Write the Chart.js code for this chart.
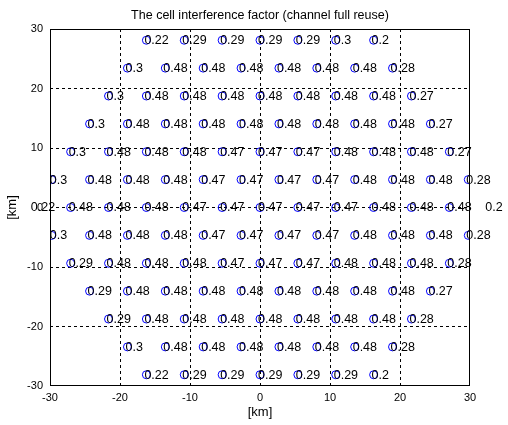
<!DOCTYPE html>
<html>
<head>
<meta charset="utf-8">
<script src="https://cdn.jsdelivr.net/npm/chart.js@4.4.0/dist/chart.umd.min.js"></script>
<style>
html,body{margin:0;padding:0;background:#fff;}
#wrap{width:508px;height:425px;}
</style>
</head>
<body>
<div id="wrap"><canvas id="c" width="508" height="425"></canvas></div>
<script>
// ---- data ----
const titleText = 'The cell interference factor (channel full reuse)';
const xAxisLabel = '[km]';
const yAxisLabel = '[km]';
const axisMin = -30;
const axisMax = 30;
const tickStep = 10;
const cellSpacing = 5.41;          // distance between neighbouring cell sites (km)
const rowIndex = [6, 5, 4, 3, 2, 1, 0, -1, -2, -3, -4, -5, -6];  // hex row number, top to bottom
const rowP6 = ['0.22','0.29','0.29','0.29','0.29','0.3','0.2'];
const rowP5 = ['0.3','0.48','0.48','0.48','0.48','0.48','0.48','0.28'];
const rowP4 = ['0.3','0.48','0.48','0.48','0.48','0.48','0.48','0.48','0.27'];
const rowP3 = ['0.3','0.48','0.48','0.48','0.48','0.48','0.48','0.48','0.48','0.27'];
const rowP2 = ['0.3','0.48','0.48','0.48','0.47','0.47','0.47','0.48','0.48','0.48','0.27'];
const rowP1 = ['0.3','0.48','0.48','0.48','0.47','0.47','0.47','0.47','0.48','0.48','0.48','0.28'];
const row0  = ['0.22','0.48','0.48','0.48','0.47','0.47','0.47','0.47','0.47','0.48','0.48','0.48','0.2'];
const rowM1 = ['0.3','0.48','0.48','0.48','0.47','0.47','0.47','0.47','0.48','0.48','0.48','0.28'];
const rowM2 = ['0.29','0.48','0.48','0.48','0.47','0.47','0.47','0.48','0.48','0.48','0.28'];
const rowM3 = ['0.29','0.48','0.48','0.48','0.48','0.48','0.48','0.48','0.48','0.27'];
const rowM4 = ['0.29','0.48','0.48','0.48','0.48','0.48','0.48','0.48','0.28'];
const rowM5 = ['0.3','0.48','0.48','0.48','0.48','0.48','0.48','0.28'];
const rowM6 = ['0.22','0.29','0.29','0.29','0.29','0.29','0.2'];
const rowLabels = [rowP6,rowP5,rowP4,rowP3,rowP2,rowP1,row0,rowM1,rowM2,rowM3,rowM4,rowM5,rowM6];

// ---- build hexagonal cell sites ----
const cells = [];
rowIndex.forEach((k, r) => {
  const labels = rowLabels[r];
  const n = labels.length;
  const y = k * cellSpacing * Math.sqrt(3) / 2;
  labels.forEach((lab, j) => {
    cells.push({x: (j - (n - 1) / 2) * cellSpacing, y: y, label: lab});
  });
});

const FONT = 'Liberation Sans, Arial, Helvetica, sans-serif';

const labelPlugin = {
  id: 'cellLabels',
  afterDatasetsDraw(chart) {
    const ctx = chart.ctx, xs = chart.scales.x, ys = chart.scales.y;
    ctx.save();
    ctx.fillStyle = '#000';
    ctx.font = '12.5px ' + FONT;
    ctx.textAlign = 'left';
    ctx.textBaseline = 'middle';
    cells.forEach(c => {
      ctx.fillText(c.label, xs.getPixelForValue(c.x) - 2, ys.getPixelForValue(c.y) + 0.5);
    });
    ctx.restore();
  },
  afterDraw(chart) {
    const ctx = chart.ctx, a = chart.chartArea;
    ctx.save();
    ctx.strokeStyle = '#000';
    ctx.lineWidth = 1;
    ctx.setLineDash([]);
    const l = Math.round(a.left) + 0.5, t = Math.round(a.top) + 0.5;
    const r = Math.round(a.right) - 0.5, b = Math.round(a.bottom) - 0.5;
    ctx.strokeRect(l, t, r - l, b - t);
    ctx.restore();
  }
};

const gridColor = (ctx) => (ctx.tick && (ctx.tick.value === axisMin || ctx.tick.value === axisMax)) ? 'rgba(0,0,0,0)' : '#000';

new Chart(document.getElementById('c'), {
  type: 'scatter',
  data: {
    datasets: [{
      data: cells.map(c => ({x: c.x, y: c.y})),
      pointStyle: 'circle',
      pointRadius: 4,
      pointBorderWidth: 1,
      pointBorderColor: '#0000ff',
      pointBackgroundColor: 'rgba(0,0,0,0)',
      showLine: false
    }]
  },
  options: {
    responsive: false,
    animation: false,
    devicePixelRatio: 1,
    layout: {padding: {left: 0, right: 38, top: 0, bottom: 0}},
    plugins: {
      legend: {display: false},
      tooltip: {enabled: false},
      title: {
        display: true, text: titleText, color: '#000', fullSize: false,
        font: {family: FONT, size: 12.5, weight: 'normal'},
        padding: {top: 8, bottom: 6}
      }
    },
    scales: {
      x: {
        type: 'linear', min: axisMin, max: axisMax,
        ticks: {stepSize: tickStep, color: '#000', font: {family: FONT, size: 11}, padding: 5, maxRotation: 0},
        grid: {drawTicks: false, color: gridColor, lineWidth: 1},
        border: {display: false, dash: [3, 3]},
        title: {display: true, text: xAxisLabel, color: '#000', font: {family: FONT, size: 13}, padding: {top: 0, bottom: 5}},
        afterFit: (s) => { s.height = 39; }
      },
      y: {
        type: 'linear', min: axisMin, max: axisMax,
        ticks: {stepSize: tickStep, color: '#000', font: {family: FONT, size: 11}, padding: 7},
        grid: {drawTicks: false, color: gridColor, lineWidth: 1},
        border: {display: false, dash: [3, 3]},
        title: {display: true, text: yAxisLabel, color: '#000', font: {family: FONT, size: 13}, padding: {top: 5, bottom: 0}},
        afterFit: (s) => { s.width = 50; }
      }
    }
  },
  plugins: [labelPlugin]
});
</script>
</body>
</html>
